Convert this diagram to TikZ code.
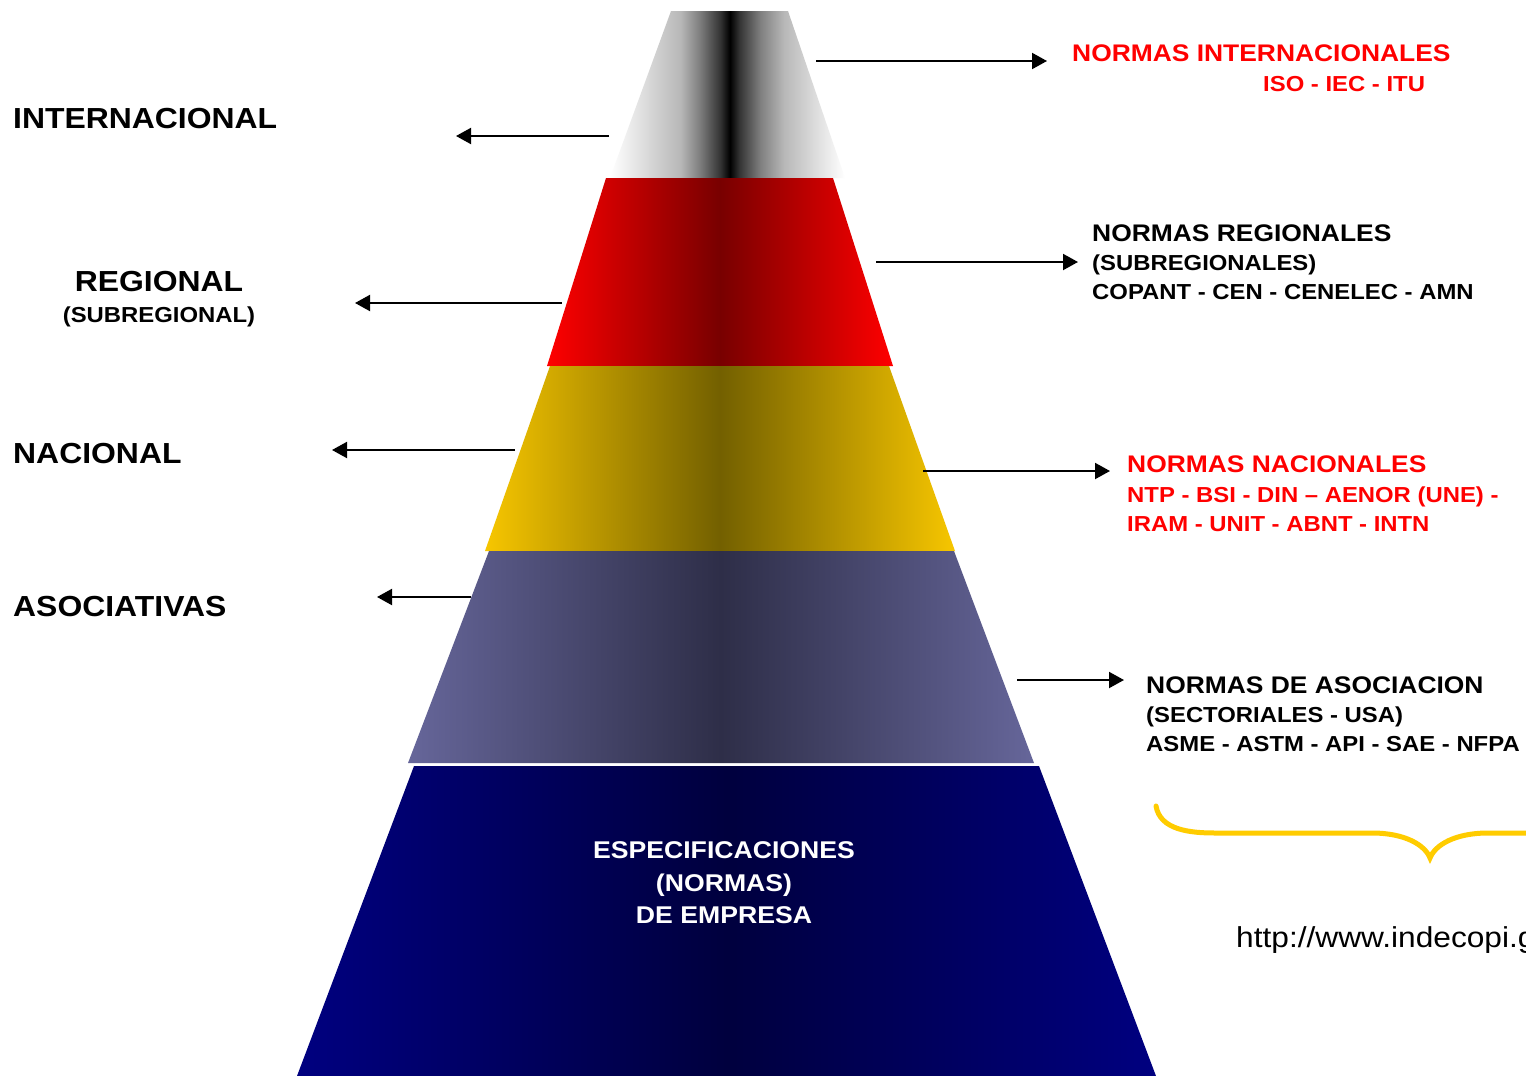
\documentclass[tikz,border=0pt]{standalone}
\usepackage{fontspec}
\setmainfont{Liberation Sans}[FakeStretch=1.1]
\usetikzlibrary{arrows.meta}
\definecolor{braceY}{HTML}{FFCC00}
\definecolor{redE}{HTML}{FF0000}
\definecolor{redC}{HTML}{780000}
\definecolor{yelE}{HTML}{F7C600}
\definecolor{yelC}{HTML}{736000}
\definecolor{slaE}{HTML}{66669A}
\definecolor{slaC}{HTML}{2E2E48}
\definecolor{navE}{HTML}{000080}
\definecolor{navC}{HTML}{00003E}
\definecolor{txtRed}{HTML}{FF0000}
\pgfdeclarehorizontalshading{grayc}{100bp}{%
  color(0bp)=(white); color(25bp)=(white); color(40bp)=(black!28);
  color(44bp)=(black!50); color(48.5bp)=(black!80); color(50.5bp)=(black);
  color(52.5bp)=(black!80); color(57bp)=(black!50); color(62bp)=(black!28);
  color(75bp)=(white); color(100bp)=(white)}
\begin{document}
\begin{tikzpicture}[x=1pt,y=-1pt,
  big/.style={inner sep=0pt, font=\bfseries\fontsize{29}{34}\selectfont},
  head/.style={inner sep=0pt, anchor=base west, font=\bfseries\fontsize{24}{29}\selectfont},
  sub/.style={inner sep=0pt, anchor=base west, font=\bfseries\fontsize{21.7}{26}\selectfont},
  emp/.style={inner sep=0pt, anchor=base, text=white, font=\bfseries\fontsize{24.2}{29}\selectfont},
  arr/.style={line width=2pt, -{Triangle[length=15pt,width=16pt]}}]
\path[fill=white] (0,0) rectangle (1526,1076);
\clip (0,0) rectangle (1526,1076);

% pyramid tiers
\shade[shading=grayc] (671,11) -- (788,11) -- (845,178) -- (610,178) -- cycle;
\shade[left color=redE, right color=redE, middle color=redC]
  (606,178) -- (833,178) -- (893,366) -- (547,366) -- cycle;
\shade[left color=yelE, right color=yelE, middle color=yelC]
  (550,366) -- (889,366) -- (955,551) -- (485,551) -- cycle;
\shade[left color=slaE, right color=slaE, middle color=slaC]
  (489,551) -- (954,551) -- (1034,763) -- (408,763) -- cycle;
\shade[left color=navE, right color=navE, middle color=navC]
  (414,766) -- (1039,766) -- (1156,1076) -- (297,1076) -- cycle;

% left labels
\node[big, anchor=base west] (lInt) at (13,128) {INTERNACIONAL};
\node[big, anchor=base] (lReg) at (159,291) {REGIONAL};
\node[inner sep=0pt, anchor=base, font=\bfseries\fontsize{21.7}{26}\selectfont] (lRegSub) at (159,322) {(SUBREGIONAL)};
\node[big, anchor=base west] (lNac) at (13,463) {NACIONAL};
\node[big, anchor=base west] (lAso) at (13,616) {ASOCIATIVAS};

% right labels
\node[head, text=txtRed] (rInt1) at (1072,61) {NORMAS INTERNACIONALES};
\node[sub, text=txtRed] (rInt2) at (1263,91) {ISO - IEC - ITU};
\node[head] (rReg1) at (1092,241) {NORMAS REGIONALES};
\node[sub] (rReg2) at (1092,270) {(SUBREGIONALES)};
\node[sub] (rReg3) at (1092,299) {COPANT - CEN - CENELEC - AMN};
\node[head, text=txtRed] (rNac1) at (1127,472) {NORMAS NACIONALES};
\node[sub, text=txtRed] (rNac2) at (1127,502) {NTP - BSI - DIN -- AENOR (UNE) -};
\node[sub, text=txtRed] (rNac3) at (1127,531) {IRAM - UNIT - ABNT - INTN};
\node[head] (rAso1) at (1146,693) {NORMAS DE ASOCIACION};
\node[sub] (rAso2) at (1146,722) {(SECTORIALES - USA)};
\node[sub] (rAso3) at (1146,751) {ASME - ASTM - API - SAE - NFPA};

% base text
\node[emp] (e1) at (724,858) {ESPECIFICACIONES};
\node[emp] (e2) at (724,891) {(NORMAS)};
\node[emp] (e3) at (724,923) {DE EMPRESA};

% url
\node[inner sep=0pt, anchor=base west, font=\fontsize{28.8}{34}\selectfont] (url) at (1236,947) {http://www.indecopi.g};

% arrows
\coordinate (aI1) at (816,61);   \coordinate (aI2) at (1047,61);
\coordinate (aR1) at (876,262);  \coordinate (aR2) at (1078,262);
\coordinate (aN1) at (923,471);  \coordinate (aN2) at (1110,471);
\coordinate (aA1) at (1017,680); \coordinate (aA2) at (1124,680);
\coordinate (bI1) at (609,136);  \coordinate (bI2) at (456,136);
\coordinate (bR1) at (562,303);  \coordinate (bR2) at (355,303);
\coordinate (bN1) at (515,450);  \coordinate (bN2) at (332,450);
\coordinate (bA1) at (471,597);  \coordinate (bA2) at (377,597);
\draw[arr] (aI1) -- (aI2);
\draw[arr] (aR1) -- (aR2);
\draw[arr] (aN1) -- (aN2);
\draw[arr] (aA1) -- (aA2);
\draw[arr] (bI1) -- (bI2);
\draw[arr] (bR1) -- (bR2);
\draw[arr] (bN1) -- (bN2);
\draw[arr] (bA1) -- (bA2);

% brace
\draw[braceY, line width=5pt, line cap=round]
  (1156,806) .. controls (1160,830) and (1190,833) .. (1215,833)
  -- (1372,833) .. controls (1405,833) and (1425,845) .. (1430,858)
  .. controls (1435,845) and (1455,833) .. (1488,833) -- (1545,833);
\end{tikzpicture}
\end{document}
